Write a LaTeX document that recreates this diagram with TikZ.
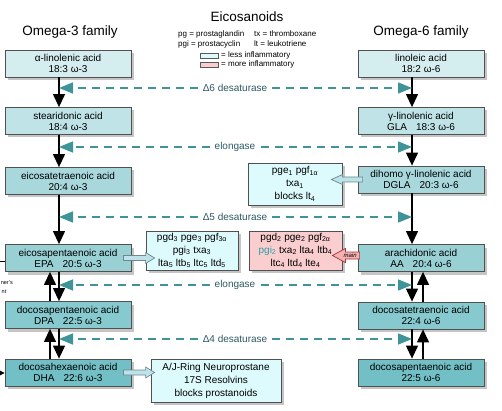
\documentclass[tikz,border=0pt]{standalone}
\usepackage{fontspec}
\setmainfont{Liberation Sans}
\usetikzlibrary{arrows.meta,shadows,calc}
\definecolor{c1}{RGB}{214,237,240}
\definecolor{c2}{RGB}{191,227,230}
\definecolor{c3}{RGB}{168,216,220}
\definecolor{c4}{RGB}{152,208,212}
\definecolor{c5}{RGB}{134,201,206}
\definecolor{c6}{RGB}{114,191,197}
\definecolor{lessc}{RGB}{221,250,252}
\definecolor{morec}{RGB}{250,206,206}
\definecolor{enzc}{RGB}{62,148,153}
\definecolor{enztext}{RGB}{46,90,100}
\definecolor{pgic}{RGB}{40,160,170}
\definecolor{boxline}{RGB}{80,80,80}
\definecolor{hollowfill}{RGB}{190,226,233}
\definecolor{hollowline}{RGB}{110,135,145}
\definecolor{mainfill}{RGB}{245,178,178}
\definecolor{mainline}{RGB}{165,55,55}
\newcommand\hollowarrow[6]{%
  \draw[#1] ($(#2)+(0,-#5)$) -- ($(#3)+(#4,-#5)$) -- ($(#3)+(#4,-#6)$) -- (#3)
    -- ($(#3)+(#4,#6)$) -- ($(#3)+(#4,#5)$) -- ($(#2)+(0,#5)$) -- cycle;}
\begin{document}
\begin{tikzpicture}[x=1pt,y=-1pt,
  shad/.style={drop shadow={shadow xshift=3pt,shadow yshift=-3pt,fill=black!45,opacity=0.5}},
  acid/.style={draw=boxline,line width=0.8pt,minimum width=126pt,minimum height=27pt,
    align=center,inner sep=1pt,font=\fontsize{10}{11}\selectfont,shad},
  product/.style={draw=boxline,line width=0.8pt,align=center,inner sep=1pt,
    font=\fontsize{10}{13}\selectfont,shad},
  varrow/.style={line width=1.2pt,-{Triangle[length=13pt,width=12pt]}},
  enz/.style={draw=enzc,line width=1.5pt,dash pattern=on 8pt off 6pt,
    -{Triangle[length=14pt,width=11pt]}},
  enzlabel/.style={text=enztext,font=\fontsize{10}{12}\selectfont,inner xsep=5pt},
  famtitle/.style={font=\fontsize{13.5}{15}\selectfont},
  legtext/.style={font=\fontsize{8}{9}\selectfont,inner sep=0pt,anchor=west},
  legbox/.style={draw=black!65,line width=0.6pt,minimum width=18pt,minimum height=5pt,inner sep=0pt},
  hollow/.style={fill=hollowfill,draw=hollowline,line width=0.7pt},
  mainarr/.style={fill=mainfill,draw=mainline,line width=0.7pt},
  tinytext/.style={font=\fontsize{5.5}{6}\selectfont,inner sep=0pt,anchor=east}]
\useasboundingbox[fill=white] (0,0) rectangle (502,411);

% titles and legend
\node[font=\fontsize{13.5}{15}\selectfont] (title) at (247,17) {Eicosanoids};
\node[famtitle] (om3) at (70,32) {Omega-3 family};
\node[famtitle] (om6) at (421,32) {Omega-6 family};
\node[legtext] (lg1) at (178,34) {pg = prostaglandin};
\node[legtext] (lg2) at (178,44) {pgi = prostacyclin};
\node[legtext] (lg3) at (254,34) {tx = thromboxane};
\node[legtext] (lg4) at (254,44) {lt = leukotriene};
\node[legbox,fill=lessc] (legless) at (209,55.5) {};
\node[legbox,fill=morec] (legmore) at (209,64.5) {};
\node[legtext] (lg5) at (221,55.5) {= less inflammatory};
\node[legtext] (lg6) at (221,64.5) {= more inflammatory};

% omega-3 column
\node[acid,fill=c1] (ala) at (68,63.5) {α-linolenic acid\\18:3 ω-3};
\node[acid,fill=c2] (sda) at (68,121) {stearidonic acid\\18:4 ω-3};
\node[acid,fill=c3] (eta) at (68,181) {eicosatetraenoic acid\\20:4 ω-3};
\node[acid,fill=c4] (epa) at (68,258) {eicosapentaenoic acid\\EPA\hspace{9pt}20:5 ω-3};
\node[acid,fill=c5] (dpa) at (68,315) {docosapentaenoic acid\\DPA\hspace{9pt}22:5 ω-3};
\node[acid,fill=c6] (dha) at (68,372.5) {docosahexaenoic acid\\DHA\hspace{9pt}22:6 ω-3};

% omega-6 column
\node[acid,fill=c1] (la) at (421,63.5) {linoleic acid\\18:2 ω-6};
\node[acid,fill=c2] (gla) at (421,121) {γ-linolenic acid\\GLA\hspace{9pt}18:3 ω-6};
\node[acid,fill=c3] (dgla) at (421,179.5) {dihomo γ-linolenic acid\\DGLA\hspace{9pt}20:3 ω-6};
\node[acid,fill=c4] (aa) at (421,258) {arachidonic acid\\AA\hspace{9pt}20:4 ω-6};
\node[acid,fill=c5] (dta) at (421,315.5) {docosatetraenoic acid\\22:4 ω-6};
\node[acid,fill=c6] (dpasix) at (421,372.5) {docosapentaenoic acid\\22:5 ω-6};

% products
\node[product,fill=lessc,minimum width=94pt,minimum height=42pt] (dglaprod) at (295,184)
  {pge\textsubscript{1} pgf\textsubscript{1α}\\txa\textsubscript{1}\\blocks lt\textsubscript{4}};
\node[product,fill=lessc,minimum width=92pt,minimum height=39pt] (epaprod) at (192,250.5)
  {pgd\textsubscript{3} pge\textsubscript{3} pgf\textsubscript{3α}\\pgi\textsubscript{3} txa\textsubscript{3}\\lta\textsubscript{5} ltb\textsubscript{5} ltc\textsubscript{5} ltd\textsubscript{5}};
\node[product,fill=morec,minimum width=93pt,minimum height=39pt] (aaprod) at (295.5,250.5)
  {pgd\textsubscript{2} pge\textsubscript{2} pgf\textsubscript{2α}\\\textcolor{pgic}{pgi\textsubscript{2}} txa\textsubscript{2} lta\textsubscript{4} ltb\textsubscript{4}\\ltc\textsubscript{4} ltd\textsubscript{4} lte\textsubscript{4}};
\node[product,fill=lessc,minimum width=130pt,minimum height=43pt] (dhaprod) at (216,380.5)
  {A/J-Ring Neuroprostane\\17S Resolvins\\blocks prostanoids};

% column lines
\coordinate (cL) at (59,0);
\coordinate (cLu) at (50,0);
\coordinate (cR) at (412,0);
\coordinate (cRu) at (423,0);

\draw[varrow] (ala.south -| cL) -- (sda.north -| cL);
\draw[varrow] (sda.south -| cL) -- (eta.north -| cL);
\draw[varrow] (eta.south -| cL) -- (epa.north -| cL);
\draw[varrow] (epa.south -| cL) -- (dpa.north -| cL);
\draw[varrow] (dpa.north -| cLu) -- (epa.south -| cLu);
\draw[varrow] (dpa.south -| cL) -- (dha.north -| cL);
\draw[varrow] (dha.north -| cLu) -- (dpa.south -| cLu);

\draw[varrow] (la.south -| cR) -- (gla.north -| cR);
\draw[varrow] (gla.south -| cR) -- (dgla.north -| cR);
\draw[varrow] (dgla.south -| cR) -- (aa.north -| cR);
\draw[varrow] (aa.south -| cR) -- (dta.north -| cR);
\draw[varrow] (dta.north -| cRu) -- (aa.south -| cRu);
\draw[varrow] (dta.south -| cR) -- (dpasix.north -| cR);
\draw[varrow] (dpasix.north -| cRu) -- (dta.south -| cRu);

% enzymes
\node[enzlabel] (d6) at (235,88) {Δ6 desaturase};
\node[enzlabel] (el1) at (235,147) {elongase};
\node[enzlabel] (d5) at (235,217) {Δ5 desaturase};
\node[enzlabel] (el2) at (235,285) {elongase};
\node[enzlabel] (d4) at (235,339) {Δ4 desaturase};
\foreach \e in {d6,el1,d5,el2,d4}{
  \draw[enz] (\e.west) -- (\e.west -| cL);
  \draw[enz] (\e.east) -- (\e.east -| cR);
}

% hollow arrows to products
\coordinate (a1s) at ($(epa.east)+(-8,0)$);
\coordinate (a1t) at ($(epaprod.west |- epa.east)+(9,0)$);
\hollowarrow{hollow}{a1s}{a1t}{-9}{2.5}{5.5}
\coordinate (a2s) at ($(dgla.west)+(5,0)$);
\coordinate (a2t) at ($(dglaprod.east |- dgla.west)+(-11,0)$);
\hollowarrow{hollow}{a2s}{a2t}{11}{2.5}{5}
\coordinate (a3s) at ($(dha.east)+(-8,0)$);
\coordinate (a3t) at ($(dhaprod.west |- dha.east)+(4,0)$);
\hollowarrow{hollow}{a3s}{a3t}{-9}{2.5}{5.5}
\coordinate (a4s) at ($(aa.west)+(2,-2.5)$);
\coordinate (a4t) at ($(aaprod.east |- aa.west)+(-10,-2.5)$);
\hollowarrow{mainarr}{a4s}{a4t}{13}{3.5}{7}
\node[font=\fontsize{6}{6}\itshape,inner sep=0pt] (mainlbl) at ($(a4s)!0.35!(a4t)$) {main};

% cut-off shunt at left edge
\coordinate (sh1) at (0,261);
\draw[line width=0.8pt] (sh1) -- (sh1 -| epa.west);
\coordinate (sh2) at (0,373);
\draw[line width=0.8pt,-{Triangle[length=5pt,width=5pt]}] (sh2) -- (sh2 -| dha.west);
\node[tinytext] (shtxt1) at (13,283) {ner's};
\node[tinytext] (shtxt2) at (6.5,291.5) {nt};
\end{tikzpicture}
\end{document}
